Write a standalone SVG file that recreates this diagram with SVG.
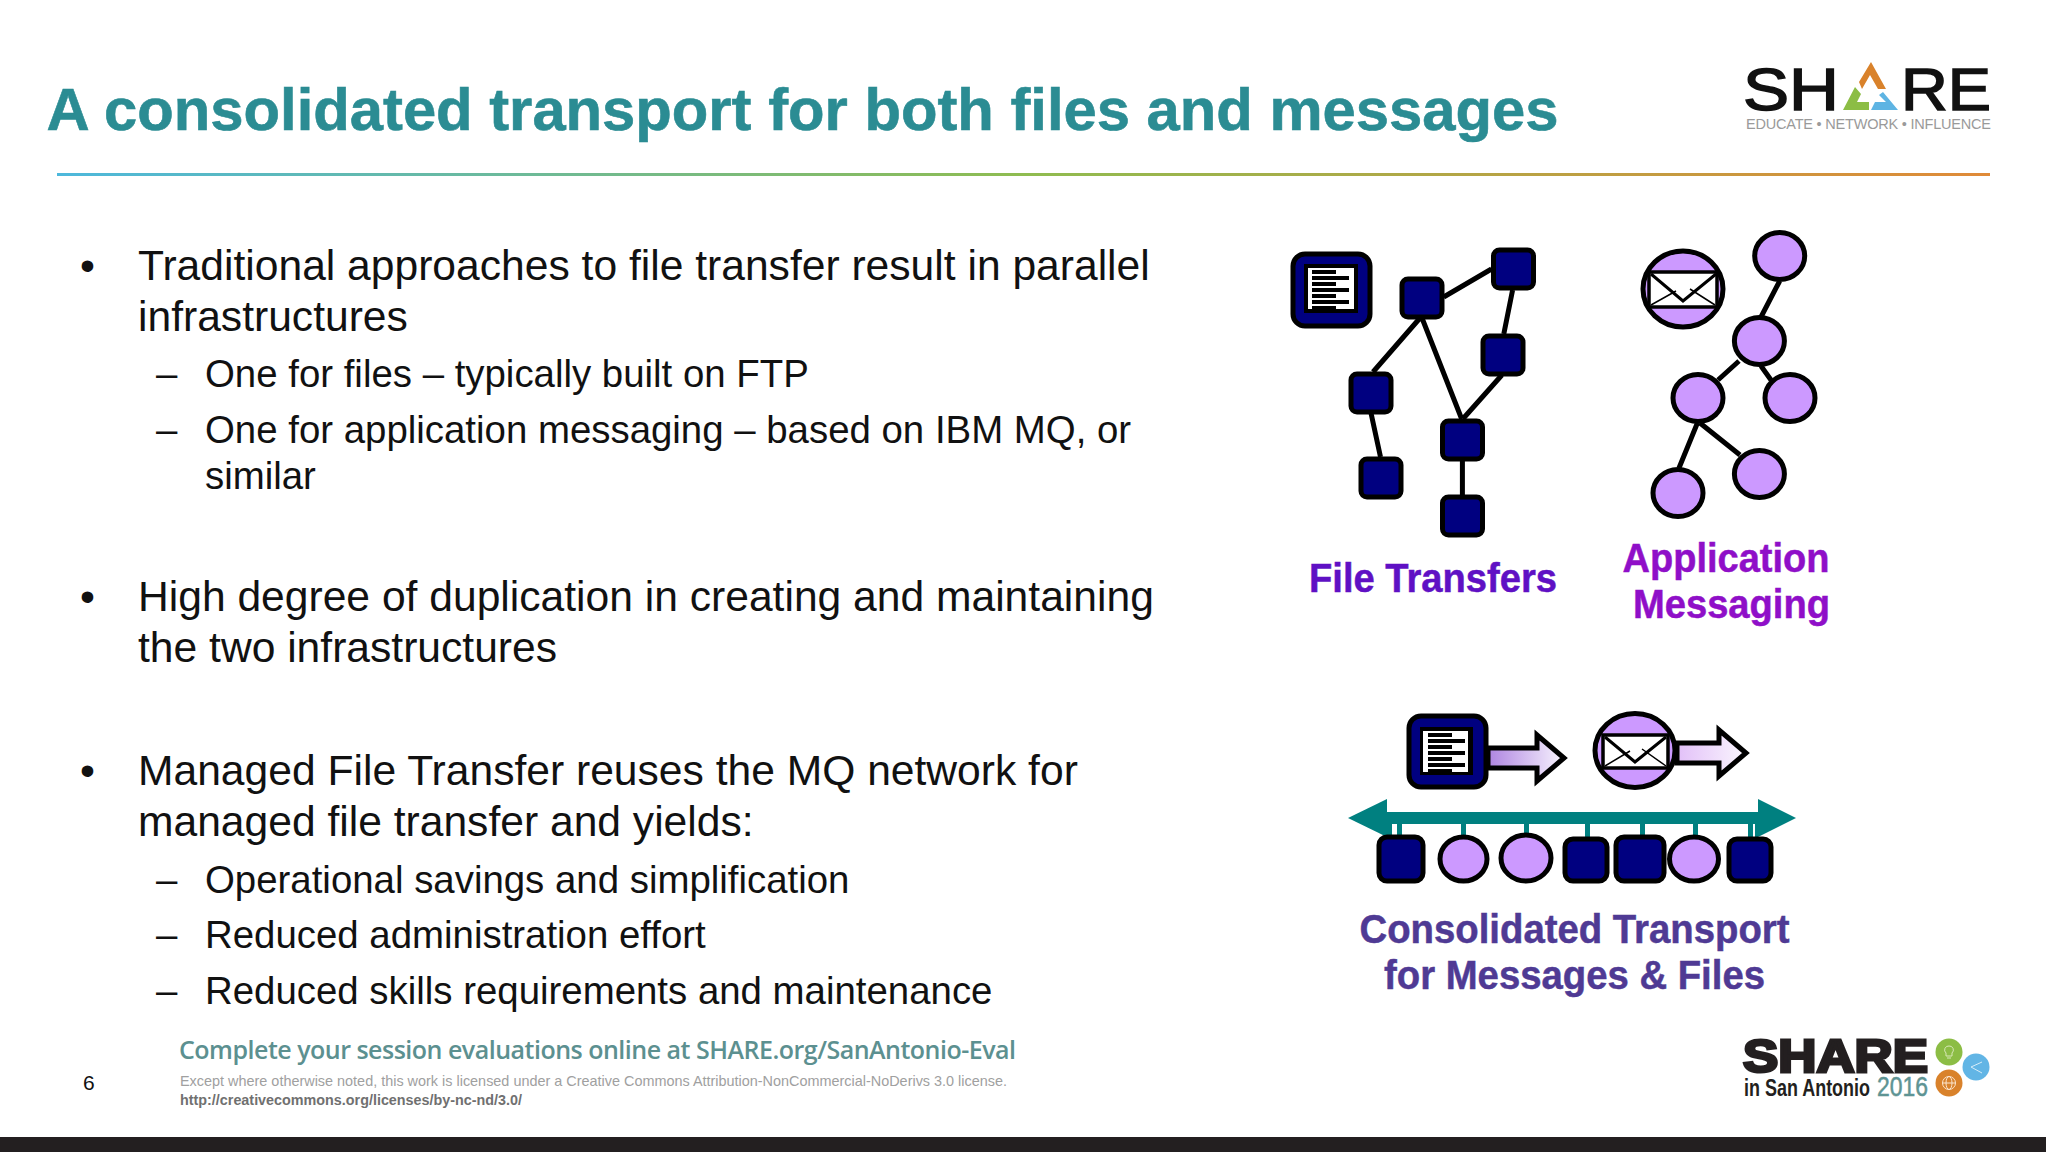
<svg xmlns="http://www.w3.org/2000/svg" width="2048" height="1152" viewBox="0 0 2048 1152">
<style>
text{font-family:"Liberation Sans",Arial,sans-serif}
.b{font-size:42.6px;fill:#111}
.s{font-size:38.4px;fill:#111}
.sq{fill:#000080;stroke:#000;stroke-width:5}
.ci{fill:#cc99ff;stroke:#000;stroke-width:5}
.ln{stroke:#000;stroke-width:5;fill:none}
.th{stroke:#000;stroke-width:1.5;fill:none}
.st{fill:#008080}
.lb{font-size:40px;font-weight:700;stroke-width:.5}
.hb{fill:#000}
.ar{stroke:#000;stroke-width:5;stroke-linejoin:miter}
</style>
<defs>
<linearGradient id="rule" x1="0" x2="1" y1="0" y2="0"><stop offset="0" stop-color="#4db8dc"/><stop offset=".5" stop-color="#8fbc50"/><stop offset="1" stop-color="#e08a38"/></linearGradient>
<linearGradient id="a1" x1="0" x2="1" y1="0" y2="0"><stop offset="0" stop-color="#ae84e0"/><stop offset="1" stop-color="#f8f4fe"/></linearGradient>
<linearGradient id="a2" x1="0" x2="1" y1="0" y2="0"><stop offset="0" stop-color="#e2c0f8"/><stop offset="1" stop-color="#faf6fe"/></linearGradient>
<g id="lines"><rect x="0" y="0" width="24" height="4"/><rect x="0" y="6" width="37" height="4"/><rect x="0" y="12" width="24" height="4"/><rect x="0" y="18" width="37" height="4"/><rect x="0" y="24" width="24" height="4"/><rect x="0" y="30" width="37" height="4"/><rect x="0" y="36" width="24" height="4"/></g>
</defs>
<rect width="2048" height="1152" fill="#fff"/>
<text x="46.500" y="130" font-size="60" font-weight="700" fill="#2b8c93" stroke="#2b8c93" stroke-width=".6" textLength="1512" lengthAdjust="spacingAndGlyphs">A consolidated transport for both files and messages</text>
<rect x="57" y="173" width="1933" height="3" fill="url(#rule)"/>
<g id="logo-top">
<text x="1743" y="110" font-size="60" fill="#111" stroke="#111" stroke-width="1.500" textLength="96" lengthAdjust="spacingAndGlyphs">SH</text>
<text x="1901" y="110" font-size="60" fill="#111" stroke="#111" stroke-width="1.500" textLength="90" lengthAdjust="spacingAndGlyphs">RE</text>
<polygon points="1871,62 1886,89 1878,89 1870,75 1862,89 1859,82" fill="#d9822b"/>
<polygon points="1855,87 1861,94 1857,102 1869,102 1869,110 1843,110" fill="#8cbd45"/>
<polygon points="1883,92 1898,110 1871,110 1875,102 1886,102 1879,95" fill="#5eb4e3"/>
<text x="1746" y="129" font-size="14.500" fill="#9a9a9a" textLength="245" lengthAdjust="spacing">EDUCATE • NETWORK • INFLUENCE</text>
</g>
<g id="body">
<text class="b" x="80" y="280">•</text>
<text class="b" x="138" y="280">Traditional approaches to file transfer result in parallel</text>
<text class="b" x="138" y="331">infrastructures</text>
<text class="s" x="156" y="387">–</text>
<text class="s" x="205" y="387">One for files – typically built on FTP</text>
<text class="s" x="156" y="443">–</text>
<text class="s" x="205" y="443">One for application messaging – based on IBM MQ, or</text>
<text class="s" x="205" y="489">similar</text>
<text class="b" x="80" y="611">•</text>
<text class="b" x="138" y="611">High degree of duplication in creating and maintaining</text>
<text class="b" x="138" y="662">the two infrastructures</text>
<text class="b" x="80" y="785">•</text>
<text class="b" x="138" y="785">Managed File Transfer reuses the MQ network for</text>
<text class="b" x="138" y="836">managed file transfer and yields:</text>
<text class="s" x="156" y="893">–</text>
<text class="s" x="205" y="893">Operational savings and simplification</text>
<text class="s" x="156" y="948">–</text>
<text class="s" x="205" y="948">Reduced administration effort</text>
<text class="s" x="156" y="1004">–</text>
<text class="s" x="205" y="1004">Reduced skills requirements and maintenance</text>
</g>
<g id="connectors">
<path class="ln" d="M1443.700 297L1491.500 269M1512.600 290L1503.800 334M1420 318L1373 372M1422 318L1461.700 419M1501.900 375L1462.800 419M1371 413L1380.500 457M1462.400 460V495"/>
<path class="ln" d="M1779.700 281L1761 317M1739 361L1718 380M1761 366L1771 380M1697.400 423L1679 468M1700 423L1740 455"/>
<rect class="st" x="1387" y="812" width="371" height="12"/>
<polygon class="st" points="1348,818 1387,799 1387,837"/>
<polygon class="st" points="1796,818 1758,799 1758,837"/>
<g class="st"><rect x="1387" y="824" width="5" height="14"/><rect x="1397" y="824" width="5" height="14"/><rect x="1461" y="824" width="5" height="14"/><rect x="1524" y="824" width="5" height="14"/><rect x="1585" y="824" width="5" height="14"/><rect x="1640" y="824" width="5" height="14"/><rect x="1693" y="824" width="5" height="14"/><rect x="1748" y="824" width="5" height="14"/><rect x="1755" y="824" width="3" height="14"/></g>
</g>
<g id="doc-icon">
<rect class="sq" x="1293" y="254" width="77" height="72" rx="12"/>
<rect x="1304" y="264" width="54" height="49" fill="#000"/>
<rect x="1308" y="268" width="46" height="41" fill="#fff"/>
<use href="#lines" x="1312" y="270" class="hb"/>
</g>
<g id="file-nodes">
<rect id="f1" class="sq" x="1402" y="279" width="40" height="38" rx="6"/>
<rect id="f2" class="sq" x="1493.500" y="250" width="40" height="38" rx="6"/>
<rect id="f3" class="sq" x="1483" y="336" width="40" height="38" rx="6"/>
<rect id="f4" class="sq" x="1351" y="374" width="40" height="38" rx="6"/>
<rect id="f5" class="sq" x="1442.500" y="421" width="40" height="38" rx="6"/>
<rect id="f6" class="sq" x="1361" y="459" width="40" height="38" rx="6"/>
<rect id="f7" class="sq" x="1442.500" y="497" width="40" height="38" rx="6"/>
</g>
<g id="msg-icon">
<ellipse class="ci" cx="1683" cy="289" rx="40" ry="38"/>
<rect x="1649" y="272" width="68" height="35" fill="#fff" stroke="#000" stroke-width="3.500"/>
<path class="ln" style="stroke-width:3" d="M1651 274L1683 301L1716 274"/>
<path class="th" d="M1651 305L1676 291M1715 305L1690 289"/>
</g>
<g id="msg-nodes">
<ellipse class="ci" cx="1779.700" cy="256" rx="25" ry="23.500"/>
<ellipse class="ci" cx="1759.400" cy="341" rx="25" ry="23.500"/>
<ellipse class="ci" cx="1698" cy="398" rx="25" ry="23.500"/>
<ellipse class="ci" cx="1790" cy="398" rx="25" ry="23.500"/>
<ellipse class="ci" cx="1759.400" cy="474" rx="25" ry="23.500"/>
<ellipse class="ci" cx="1678" cy="493" rx="25" ry="23.500"/>
</g>
<text class="lb" x="1309" y="592" fill="#5f10c4" stroke="#5f10c4" textLength="248" lengthAdjust="spacingAndGlyphs">File Transfers</text>
<text class="lb" x="1622.500" y="572" fill="#8f0fc8" stroke="#8f0fc8" textLength="207" lengthAdjust="spacingAndGlyphs">Application</text>
<text class="lb" x="1633" y="618" fill="#8f0fc8" stroke="#8f0fc8" textLength="197" lengthAdjust="spacingAndGlyphs">Messaging</text>
<g id="file-arrow">
<polygon class="ar" fill="url(#a1)" points="1488,748 1537,748 1537,735 1564,758 1537,781 1537,768 1488,768"/>
</g>
<g id="msg-arrow">
<polygon class="ar" fill="url(#a2)" points="1677,743 1719,743 1719,730 1746,753 1719,776 1719,763 1677,763"/>
</g>
<g id="doc-icon-2">
<rect class="sq" x="1409" y="716" width="77" height="71" rx="12"/>
<rect x="1420" y="727" width="53" height="48" fill="#000"/>
<rect x="1423" y="731" width="45" height="41" fill="#fff"/>
<use href="#lines" x="1428" y="733" class="hb"/>
</g>
<g id="msg-icon-2">
<ellipse class="ci" cx="1635" cy="750.500" rx="40" ry="37"/>
<rect x="1603" y="735" width="65" height="33" fill="#fff" stroke="#000" stroke-width="3.500"/>
<path class="ln" style="stroke-width:3" d="M1605 737L1635 762L1666 737"/>
<path class="th" d="M1605 766L1630 751M1666 766L1642 749"/>
</g>
<g id="transport-nodes">
<rect class="sq" x="1379" y="837" width="44" height="44" rx="8"/>
<ellipse class="ci" cx="1463.500" cy="859" rx="23.500" ry="22"/>
<ellipse class="ci" cx="1526" cy="858" rx="25" ry="23"/>
<rect class="sq" x="1565" y="839" width="42" height="42" rx="8"/>
<rect class="sq" x="1616" y="837" width="48" height="44" rx="8"/>
<ellipse class="ci" cx="1694" cy="859" rx="24.500" ry="22"/>
<rect class="sq" x="1729" y="839" width="42" height="42" rx="8"/>
</g>
<text class="lb" x="1359.500" y="942.500" fill="#4f3a94" stroke="#4f3a94" textLength="430" lengthAdjust="spacingAndGlyphs">Consolidated Transport</text>
<text class="lb" x="1384" y="988.500" fill="#4f3a94" stroke="#4f3a94" textLength="381" lengthAdjust="spacingAndGlyphs">for Messages &amp; Files</text>
<text x="83" y="1090" font-size="21" fill="#111">6</text>
<text x="179" y="1059" style="font-family:'Open Sans','Noto Sans',sans-serif" font-size="25" font-weight="600" fill="#5c9090" textLength="837" lengthAdjust="spacing">Complete your session evaluations online at SHARE.org/SanAntonio-Eval</text>
<text x="180" y="1086" font-size="14.500" fill="#a0a0a0" textLength="827" lengthAdjust="spacingAndGlyphs">Except where otherwise noted, this work is licensed under a Creative Commons Attribution-NonCommercial-NoDerivs 3.0 license.</text>
<text x="180" y="1105" font-size="14.500" font-weight="700" fill="#707070" textLength="342" lengthAdjust="spacingAndGlyphs">http://creativecommons.org/licenses/by-nc-nd/3.0/</text>
<g id="logo-bottom">
<text x="1743" y="1072" font-size="47" font-weight="700" fill="#231f20" stroke="#231f20" stroke-width="3" textLength="185" lengthAdjust="spacingAndGlyphs">SHARE</text>
<text x="1744" y="1096" font-size="24" font-weight="700" fill="#231f20" textLength="126" lengthAdjust="spacingAndGlyphs">in San Antonio</text>
<text x="1877" y="1096" font-size="27" font-weight="400" fill="#5e9494" stroke="#5e9494" stroke-width=".5" textLength="51" lengthAdjust="spacingAndGlyphs">2016</text>
<circle cx="1949" cy="1052" r="13.500" fill="#8cbd45"/>
<circle cx="1976" cy="1067" r="13.500" fill="#62b5e5"/>
<circle cx="1949" cy="1083" r="13.500" fill="#d9822b"/>
<path d="M1949 1046a4 4 0 0 1 3 7v3h-6v-3a4 4 0 0 1 3-7zM1947 1058h4" fill="none" stroke="#d8e8b8" stroke-width="1"/>
<path d="M1982 1062L1971 1067L1982 1073" fill="none" stroke="#d6ecf8" stroke-width="1"/>
<g fill="none" stroke="#fbe6d0" stroke-width="1"><circle cx="1949" cy="1083" r="6.500"/><ellipse cx="1949" cy="1083" rx="3" ry="6.500"/><path d="M1942.500 1083h13"/></g>
</g>
<rect x="0" y="1137" width="2046" height="15" fill="#231f20"/>
</svg>
